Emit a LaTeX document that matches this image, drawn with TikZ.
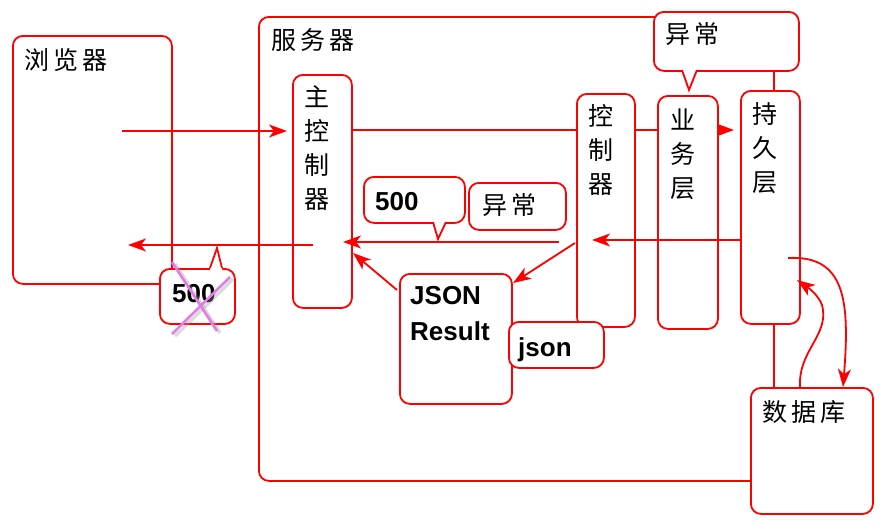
\documentclass[tikz,border=0pt]{standalone}
\usepackage{fontspec}
\setmainfont{Liberation Sans}
\newfontfamily\cjk{Noto Sans CJK SC}
\usetikzlibrary{arrows.meta,calc}
\definecolor{lred}{RGB}{255,0,0}
\definecolor{xviolet}{RGB}{225,125,230}
\tikzset{
  box/.style={draw=lred, line width=1.8pt, rounded corners=10pt, anchor=north west, inner sep=0pt},
  wbox/.style={box, fill=white},
  ln/.style={draw=lred, line width=1.8pt},
  arr/.style={ln, -{Stealth[length=18pt,width=13pt,inset=5pt]}},
  tri/.style={ln, -{Triangle[length=17pt,width=12pt]}},
  ptr/.style={ln, line join=miter},
  ctext/.style={inner sep=0pt, font=\cjk\fontsize{25pt}{34pt}\selectfont},
  vtext/.style={ctext, align=center},
  btext/.style={inner sep=0pt, font=\bfseries\fontsize{26pt}{36pt}\selectfont},
  xline/.style={draw=xviolet, line width=2.6pt},
  xshadow/.style={draw=black!40, opacity=0.35, line width=3.5pt}
}
\begin{document}
\begin{tikzpicture}[x=1pt,y=-1pt]
\useasboundingbox (0,0) rectangle (891,528);
% outer boxes
\node[box, minimum width=515pt, minimum height=464pt] (server) at (258,16) {};
\node[box, minimum width=159pt, minimum height=248pt] (browser) at (12,35) {};
% main request line behind the layer boxes
\draw[tri] (351,130) -- (734,130);
% layer boxes
\node[wbox, minimum width=59pt, minimum height=233pt] (zkq) at (292,74) {};
\node[wbox, minimum width=58pt, minimum height=233pt] (kzq) at (576,93) {};
\node[wbox, minimum width=60pt, minimum height=233pt] (ywc) at (657,95) {};
\node[wbox, minimum width=59pt, minimum height=233pt] (cjc) at (740,90) {};
% top exception callout
\node[wbox, minimum width=145pt, minimum height=59pt] (yc1) at (653,11) {};
\fill[white] (682,68) -- (697,68) -- (697,70) -- (689,90) -- (682,70) -- cycle;
\draw[ptr] (682,70) -- (689,90) -- (697,70);
% database
\node[wbox, minimum width=122pt, minimum height=126pt] (db) at (750,387) {};
% JSON boxes
\node[wbox, minimum width=112pt, minimum height=130pt] (jres) at (399,273) {};
\node[wbox, minimum width=95pt, minimum height=46pt] (jsn) at (508,321) {};
% middle callouts
\node[wbox, minimum width=101pt, minimum height=46pt] (c500) at (363,176) {};
\fill[white] (433,220) -- (446,220) -- (446,222) -- (438,239) -- (433,222) -- cycle;
\draw[ptr] (433,222) -- (438,239) -- (446,222);
\node[wbox, minimum width=97pt, minimum height=47pt] (yc2) at (468,182) {};
% connectors
\coordinate (bstart) at (122,131);
\draw[arr] (bstart) -- ($(zkq.west |- bstart)+(-5,0)$);
\coordinate (r1) at (313,245);
\draw[arr] (r1) -- (128,245);
\draw[arr] (559,242) -- (343,242);
\draw[arr] (742,240) -- (592,240);
\draw[arr] (575,243) -- (513,283);
\draw[arr] (397,290) -- (353,253);
\draw[arr] (788,258) .. controls (845,255) and (850,300) .. (843,387);
\draw[arr] (800,387) .. controls (798,350) and (830,335) .. (822,305) .. controls (818,294) and (807,287) .. (797,280);
% crossed 500 callout
\node[wbox, minimum width=75pt, minimum height=55pt] (x500) at (159,268) {};
\fill[white] (210,270) -- (222,270) -- (222,268) -- (217,248) -- (210,268) -- cycle;
\draw[ptr] (210,268) -- (217,248) -- (222,268);
% texts
\node[ctext] (tbrowser) at (66,60) {浏\hspace{4pt}览\hspace{4pt}器};
\node[ctext] (tserver) at (313,40) {服\hspace{4pt}务\hspace{4pt}器};
\node[vtext] (tzkq) at (317,148) {主\\控\\制\\器};
\node[vtext] (tkzq) at (601,150) {控\\制\\器};
\node[vtext] (tywc) at (683,154) {业\\务\\层};
\node[vtext] (tcjc) at (765,148) {持\\久\\层};
\node[ctext] (tyc1) at (692,34) {异\hspace{4pt}常};
\node[ctext] (tyc2) at (509,205) {异\hspace{4pt}常};
\node[ctext] (tdb) at (804,412) {数\hspace{4pt}据\hspace{4pt}库};
\node[btext, anchor=base west] (t500) at (375,210) {500};
\node[btext, anchor=north west, align=left] (tjres) at (410,286) {JSON\\Result};
\node[btext, anchor=base west] (tjsn) at (518,356) {json};
\node[btext, anchor=base west] (tx500) at (172,302) {500};
% the cross
\draw[xshadow] (175,264) -- (220,333);
\draw[xshadow] (233,279) -- (175,336);
\draw[xline] (172,262) -- (217,331);
\draw[xline] (230,277) -- (172,334);
\end{tikzpicture}
\end{document}
